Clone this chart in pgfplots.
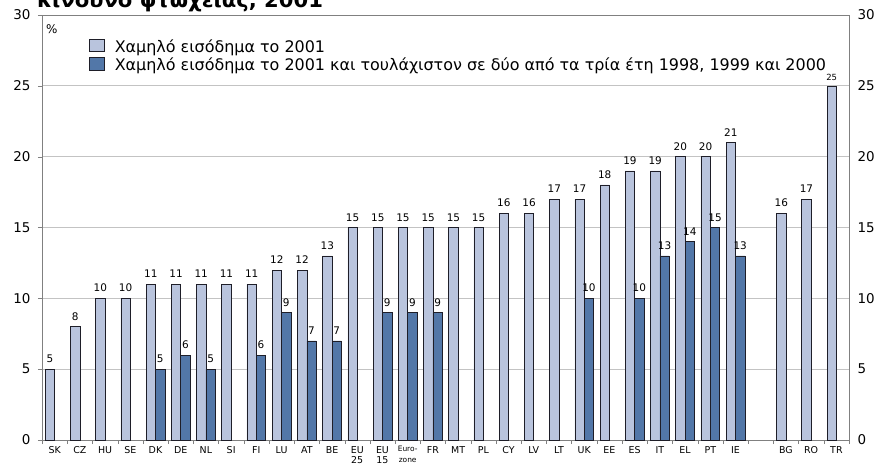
\documentclass[border=0pt]{standalone}
\usepackage{fontspec}
\setmainfont{DejaVu Sans}
\usepackage{pgfplots}
\pgfplotsset{compat=1.18}
\definecolor{lightbar}{RGB}{185,196,221}
\definecolor{darkbar}{RGB}{82,119,168}
\definecolor{gridc}{RGB}{195,195,195}
\definecolor{framec}{RGB}{128,128,128}
\definecolor{edgec}{RGB}{30,30,40}
\begin{document}
\begin{tikzpicture}
\useasboundingbox (-42bp,-25bp) rectangle (836bp,440bp);
\begin{axis}[
  at={(0,0)}, anchor=south west,
  scale only axis, width=807bp, height=425bp,
  xmin=-0.5, xmax=31.5, ymin=0, ymax=30,
  /pgf/number format/assume math mode=true,
  axis line style={draw=framec},
  ytick={0,5,...,30}, ytick pos=left,
  ymajorgrids, grid style={draw=gridc, line width=0.8pt},
  tick align=outside, major tick length=4bp,
  tick style={draw=framec},
  yticklabel style={font=\fontsize{13.5}{14}\selectfont, text=black, xshift=-4bp},
  xtick={0,...,31}, xtick pos=bottom,
  major x tick style={draw=none},
  minor xtick={-0.5,0.5,...,31.5},
  minor tick length=4bp,
  xticklabels={SK,CZ,HU,SE,DK,DE,NL,SI,FI,LU,AT,BE,{EU\\25},{EU\\15},{{\fontsize{7.5}{8}\selectfont Euro-}\\{\fontsize{7.5}{8}\selectfont zone}},FR,MT,PL,CY,LV,LT,UK,EE,ES,IT,EL,PT,IE,{},BG,RO,TR},
  xticklabel style={font=\fontsize{9.5}{10.5}\selectfont, align=center, text=black, anchor=north, yshift=1bp},
  bar width=9.4bp,
  nodes near coords,
  every node near coord/.append style={font=\fontsize{10.5}{11}\selectfont, inner sep=0pt, yshift=6bp, text=black},
  legend style={at={(rel axis cs:0.0582,0.944)}, anchor=north west, draw=none, fill=none,
    font=\fontsize{16}{17}\selectfont, row sep=0pt, inner sep=0pt,
    nodes={text height=11.5bp, text depth=3.5bp, inner ysep=1.7bp, inner xsep=1bp},
    cells={anchor=west}},
  legend image code/.code={\draw[#1] (0bp,-3.5bp) rectangle (15bp,9bp); \path (24bp,0bp);},
]
\addplot[ybar, bar shift=-4.7bp, fill=lightbar, draw=edgec, line width=0.6pt,
  every node near coord/.append style={xshift=-4.7bp}] coordinates {
 (0,5) (1,8) (2,10) (3,10) (4,11) (5,11) (6,11) (7,11) (8,11) (9,12) (10,12) (11,13)
 (12,15) (13,15) (14,15) (15,15) (16,15) (17,15) (18,16) (19,16) (20,17) (21,17)
 (22,18) (23,19) (24,19) (25,20) (26,20) (27,21) (29,16) (30,17)};
\addlegendentry{Χαμηλό εισόδημα το 2001}
\addplot[ybar, bar shift=4.7bp, fill=darkbar, draw=edgec, line width=0.6pt,
  every node near coord/.append style={xshift=4.7bp}] coordinates {
 (4,5) (5,6) (6,5) (8,6) (9,9) (10,7) (11,7) (13,9) (14,9) (15,9) (21,10) (23,10)
 (24,13) (25,14) (26,15) (27,13)};
\addlegendentry{Χαμηλό εισόδημα το 2001 και τουλάχιστον σε δύο από τα τρία έτη 1998, 1999 και 2000}
\addplot[ybar, bar shift=-4.7bp, fill=lightbar, draw=edgec, line width=0.6pt, forget plot,
  every node near coord/.append style={xshift=-4.7bp, font=\fontsize{8.5}{9}\selectfont, yshift=-1bp}] coordinates {(31,25)};
\node[anchor=north west, font=\fontsize{12}{13}\selectfont, inner sep=0pt] at (rel axis cs:0.005,0.977) {\%};
\end{axis}
\begin{axis}[
  at={(0,0)}, anchor=south west,
  scale only axis, width=807bp, height=425bp,
  xmin=-0.5, xmax=31.5, ymin=0, ymax=30,
  /pgf/number format/assume math mode=true,
  axis x line=none, axis y line*=right,
  axis line style={draw=framec},
  ytick={0,5,...,30}, major tick length=0pt,
  yticklabel style={font=\fontsize{13.5}{14}\selectfont, text=black, xshift=5bp},
]
\addplot[draw=none] coordinates {(0,0)};
\end{axis}
\node[anchor=base west, font=\bfseries\fontsize{21.2}{23}\selectfont, inner sep=0pt] at (-5bp,432bp) {κίνδυνο φτώχειας, 2001};
\end{tikzpicture}
\end{document}
